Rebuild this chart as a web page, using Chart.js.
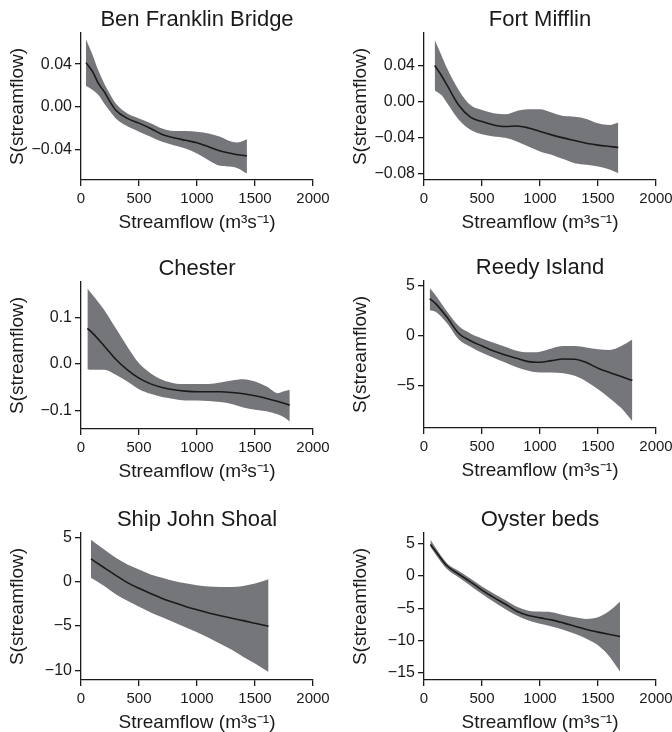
<!DOCTYPE html>
<html>
<head>
<meta charset="utf-8">
<script src="https://cdn.jsdelivr.net/npm/chart.js@4.4.1/dist/chart.umd.min.js"></script>
<style>
  html, body { margin: 0; padding: 0; background: #fff; overflow: hidden; }
  #wrap { position: relative; width: 672px; height: 732px; }
  .panel { position: absolute; width: 336px; height: 232px; }
</style>
</head>
<body>
<div id="wrap">
  <div class="panel" style="left:0;top:0"><canvas id="c1"></canvas></div>
  <div class="panel" style="left:343px;top:0"><canvas id="c2"></canvas></div>
  <div class="panel" style="left:0;top:249px"><canvas id="c3"></canvas></div>
  <div class="panel" style="left:343px;top:248px"><canvas id="c4"></canvas></div>
  <div class="panel" style="left:0;top:500px"><canvas id="c5"></canvas></div>
  <div class="panel" style="left:343px;top:500px"><canvas id="c6"></canvas></div>
</div>
<script>
// x ticks shared by every panel
const flowTicks = [0, 500, 1000, 1500, 2000];

// Ben Franklin Bridge
const benX   = [43, 100, 150, 200, 250, 300, 400, 500, 600, 700, 800, 900, 1000, 1100, 1200, 1300, 1350, 1430];
const benFit = [0.0414, 0.033, 0.022, 0.0143, 0.005, -0.003, -0.0106, -0.015, -0.020, -0.0255, -0.0286, -0.031, -0.0333, -0.037, -0.041, -0.0433, -0.0445, -0.0455];
const benUp  = [0.063, 0.0486, 0.034, 0.022, 0.012, 0.0034, -0.006, -0.0106, -0.015, -0.020, -0.0224, -0.0224, -0.023, -0.0246, -0.0277, -0.0324, -0.033, -0.030];
const benLo  = [0.0196, 0.0159, 0.0112, 0.0034, -0.004, -0.0106, -0.018, -0.023, -0.0277, -0.0324, -0.0355, -0.0386, -0.0433, -0.0495, -0.0548, -0.0557, -0.057, -0.062];
const benTicks = [-0.04, 0, 0.04];

// Fort Mifflin
const fortX   = [92, 150, 200, 300, 400, 500, 600, 700, 800, 900, 1000, 1100, 1200, 1300, 1400, 1500, 1600, 1675];
const fortFit = [0.040, 0.029, 0.018, -0.004, -0.017, -0.022, -0.0257, -0.0275, -0.0268, -0.029, -0.033, -0.0367, -0.040, -0.043, -0.046, -0.048, -0.0495, -0.0506];
const fortUp  = [0.0686, 0.0514, 0.0367, 0.0128, -0.0037, -0.0092, -0.0128, -0.014, -0.0103, -0.0084, -0.0084, -0.012, -0.0158, -0.0165, -0.019, -0.0239, -0.0257, -0.023];
const fortLo  = [0.0128, 0.0073, -0.0018, -0.020, -0.031, -0.036, -0.0385, -0.040, -0.044, -0.0495, -0.055, -0.0587, -0.0635, -0.068, -0.0697, -0.0716, -0.075, -0.079];
const fortTicks = [-0.08, -0.04, 0, 0.04];

// Chester
const chesX   = [55, 100, 200, 300, 400, 500, 600, 700, 800, 900, 1000, 1100, 1200, 1300, 1400, 1500, 1600, 1700, 1750, 1800];
const chesFit = [0.0764, 0.066, 0.0386, 0.010, -0.0129, -0.0307, -0.043, -0.0507, -0.0557, -0.0586, -0.060, -0.060, -0.060, -0.0614, -0.0643, -0.0686, -0.0743, -0.0807, -0.0845, -0.0886];
const chesUp  = [0.162, 0.148, 0.116, 0.0764, 0.037, 0.0014, -0.020, -0.034, -0.0414, -0.043, -0.043, -0.043, -0.040, -0.0357, -0.033, -0.038, -0.0486, -0.0629, -0.059, -0.0557];
const chesLo  = [-0.0114, -0.0129, -0.0129, -0.0236, -0.0379, -0.0543, -0.0643, -0.0714, -0.0757, -0.0786, -0.0786, -0.080, -0.0821, -0.0864, -0.0936, -0.0986, -0.102, -0.109, -0.115, -0.124];
const chesTicks = [-0.1, 0, 0.1];

// Reedy Island
const reedX   = [49, 100, 200, 300, 400, 500, 600, 700, 800, 900, 1000, 1100, 1200, 1300, 1400, 1500, 1600, 1700, 1796];
const reedFit = [3.73, 3.23, 1.83, 0.23, -0.5, -1.03, -1.53, -1.93, -2.27, -2.6, -2.67, -2.5, -2.33, -2.37, -2.7, -3.27, -3.7, -4.1, -4.5];
const reedUp  = [4.8, 4.07, 2.4, 0.97, 0.23, -0.27, -0.7, -1.1, -1.5, -1.67, -1.6, -1.27, -1.03, -1.03, -1.17, -1.37, -1.43, -1.03, -0.37];
const reedLo  = [2.57, 2.4, 1.23, -0.37, -1.1, -1.7, -2.2, -2.7, -3.17, -3.53, -3.7, -3.7, -3.77, -4.03, -4.6, -5.37, -6.27, -7.27, -8.6];
const reedTicks = [-5, 0, 5];

// Ship John Shoal
const shipX   = [86, 200, 300, 400, 500, 600, 700, 800, 900, 1000, 1100, 1200, 1300, 1400, 1500, 1617];
const shipFit = [2.57, 1.57, 0.71, -0.11, -0.75, -1.34, -1.9, -2.35, -2.8, -3.17, -3.54, -3.84, -4.14, -4.4, -4.7, -5.04];
const shipUp  = [4.74, 3.62, 2.69, 1.94, 1.38, 0.82, 0.45, 0.07, -0.19, -0.41, -0.56, -0.6, -0.6, -0.49, -0.22, 0.26];
const shipLo  = [0.45, -0.49, -1.42, -2.16, -2.84, -3.47, -4.03, -4.59, -5.15, -5.71, -6.34, -7.01, -7.69, -8.5, -9.25, -10.19];
const shipTicks = [-10, -5, 0, 5];

// Oyster beds
const oystX   = [55, 100, 200, 300, 400, 500, 600, 700, 800, 900, 1000, 1100, 1200, 1300, 1400, 1500, 1600, 1690];
const oystFit = [4.86, 3.83, 1.53, 0.26, -0.92, -2.2, -3.32, -4.35, -5.47, -6.13, -6.49, -6.8, -7.26, -7.77, -8.28, -8.69, -9.05, -9.36];
const oystUp  = [5.62, 4.35, 1.94, 0.77, -0.41, -1.64, -2.71, -3.73, -4.76, -5.37, -5.52, -5.62, -6.03, -6.39, -6.65, -6.39, -5.37, -3.99];
const oystLo  = [4.5, 3.32, 1.02, -0.26, -1.53, -2.81, -3.99, -5.11, -6.13, -6.9, -7.41, -7.82, -8.33, -8.95, -9.71, -10.74, -12.5, -14.8];
const oystTicks = [-15, -10, -5, 0, 5];

Chart.defaults.font.family = '"Liberation Sans", Arial, sans-serif';
Chart.defaults.color = '#222';
Chart.defaults.animation = false;

const ink = '#1a1a1a';
const band = '#75767a';

function pts(xs, ys) {
    return xs.map((x, i) => ({ x: x, y: ys[i] }));
}

function fmt(v, dec) {
    const s = Math.abs(v).toFixed(dec);
    return v < 0 ? '\u2212' + s : s;
}

function panel(id, title, xs, fit, up, lo, ticks, yMin, yMax, dec) {
    return new Chart(document.getElementById(id), {
        type: 'line',
        data: {
            datasets: [
                {
                    // fitted smooth, drawn on top
                    data: pts(xs, fit),
                    borderWidth: 1.6,
                    borderColor: ink,
                    pointRadius: 0,
                    cubicInterpolationMode: 'monotone',
                    fill: false
                },
                {
                    data: pts(xs, up),
                    borderWidth: 0,
                    borderColor: 'rgba(0,0,0,0)',
                    backgroundColor: band,
                    pointRadius: 0,
                    cubicInterpolationMode: 'monotone',
                    fill: '+1'
                },
                {
                    data: pts(xs, lo),
                    borderWidth: 0,
                    borderColor: 'rgba(0,0,0,0)',
                    pointRadius: 0,
                    cubicInterpolationMode: 'monotone',
                    fill: false
                }
            ]
        },
        options: {
            responsive: true,
            maintainAspectRatio: false,
            layout: { padding: { top: 0, right: 23, bottom: 0, left: 0 } },
            plugins: {
                legend: { display: false },
                tooltip: { enabled: false },
                title: {
                    display: true,
                    text: title,
                    fullSize: false,
                    color: ink,
                    font: { size: 22, weight: 'normal', lineHeight: 1 },
                    padding: { top: 9, bottom: 2 }
                }
            },
            scales: {
                x: {
                    type: 'linear',
                    min: 0,
                    max: 2000,
                    afterFit: s => { s.height = 52; },
                    afterBuildTicks: s => { s.ticks = flowTicks.map(v => ({ value: v })); },
                    grid: { drawOnChartArea: false, drawTicks: true, tickLength: 6, color: ink, lineWidth: 1.3 },
                    border: { display: true, color: ink, width: 1.3 },
                    ticks: { color: ink, font: { size: 15 }, padding: 4, autoSkip: false, maxRotation: 0, callback: v => String(v) },
                    title: {
                        display: true,
                        text: 'Streamflow (m\u00B3s\u207B\u00B9)',
                        color: ink,
                        font: { size: 19, lineHeight: 1 },
                        padding: { top: 0, bottom: 0 }
                    }
                },
                y: {
                    type: 'linear',
                    min: yMin,
                    max: yMax,
                    afterFit: s => { s.width = 81; },
                    afterBuildTicks: s => { s.ticks = ticks.map(v => ({ value: v })); },
                    grid: { drawOnChartArea: false, drawTicks: true, tickLength: 6, color: ink, lineWidth: 1.3 },
                    border: { display: true, color: ink, width: 1.3 },
                    ticks: { color: ink, font: { size: 16 }, padding: 3, callback: v => fmt(v, dec) },
                    title: {
                        display: true,
                        text: 'S(streamflow)',
                        color: ink,
                        font: { size: 19, lineHeight: 1 },
                        padding: { top: 8, bottom: 0 }
                    }
                }
            }
        }
    });
}

panel('c1', 'Ben Franklin Bridge', benX, benFit, benUp, benLo, benTicks, -0.068, 0.069, 2);
panel('c2', 'Fort Mifflin', fortX, fortFit, fortUp, fortLo, fortTicks, -0.0866, 0.076, 2);
panel('c3', 'Chester', chesX, chesFit, chesUp, chesLo, chesTicks, -0.14, 0.176, 1);
panel('c4', 'Reedy Island', reedX, reedFit, reedUp, reedLo, reedTicks, -9.27, 5.5, 0);
panel('c5', 'Ship John Shoal', shipX, shipFit, shipUp, shipLo, shipTicks, -11.1, 5.49, 0);
panel('c6', 'Oyster beds', oystX, oystFit, oystUp, oystLo, oystTicks, -16.1, 6.64, 0);
</script>
</body>
</html>
